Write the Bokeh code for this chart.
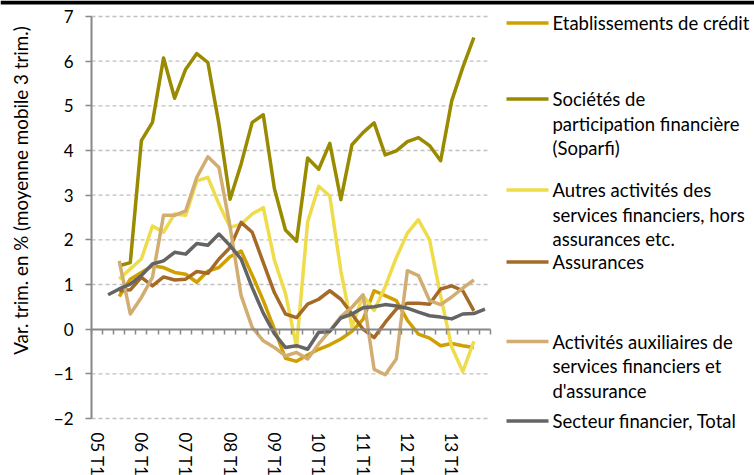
import math
from bokeh.plotting import figure
from bokeh.models import Range1d, FixedTicker, LinearAxis, Label
from bokeh.embed import file_html
from bokeh.resources import INLINE
from bokeh.core.properties import value

N = float("nan")

# quarters 2005 T1 .. 2013 T4
quarters = [f"{y} T{q}" for y in range(2005, 2014) for q in range(1, 5)]
tick_labels = ["05 T1", "06 T1", "07 T1", "08 T1", "09 T1", "10 T1", "11 T1", "12 T1", "13 T1"]
tick_quarters = ["2005 T1", "2006 T1", "2007 T1", "2008 T1", "2009 T1", "2010 T1", "2011 T1", "2012 T1", "2013 T1"]

etab = [N, N, 0.73, 1.12, 1.27, 1.42, 1.38, 1.27, 1.23, 1.05, 1.30, 1.38, 1.62, 1.75, 1.21, 0.64,
        0.00, -0.65, -0.72, -0.58, -0.45, -0.35, -0.22, -0.05, 0.22, 0.86, 0.75, 0.64, 0.20, -0.11,
        -0.20, -0.37, -0.32, -0.37, -0.41, N]
soparfi = [N, N, 1.42, 1.49, 4.22, 4.63, 6.07, 5.17, 5.82, 6.17, 5.97, 4.59, 2.91, 3.70, 4.63, 4.80,
           3.15, 2.22, 1.97, 3.83, 3.58, 4.16, 2.90, 4.13, 4.40, 4.62, 3.90, 3.99, 4.20, 4.29,
           4.11, 3.77, 5.11, 5.86, 6.53, N]
autres = [N, N, 1.12, 1.35, 1.57, 2.31, 2.17, 2.58, 2.55, 3.32, 3.40, 2.80, 2.28, 2.35, 2.58, 2.72,
          1.55, 0.80, -0.40, 2.40, 3.20, 2.98, 1.30, 0.05, 0.75, 0.42, 0.95, 1.60, 2.15, 2.45,
          2.00, 0.75, -0.40, -0.95, -0.27, N]
assur = [N, N, 0.86, 0.88, 1.16, 0.97, 1.17, 1.10, 1.12, 1.29, 1.25, 1.57, 1.83, 2.39, 2.17, 1.49,
         0.82, 0.34, 0.26, 0.56, 0.67, 0.86, 0.67, 0.34, 0.00, -0.19, 0.15, 0.45, 0.58, 0.58,
         0.56, 0.90, 0.97, 0.86, 0.41, N]
aux = [N, N, 1.53, 0.34, 0.71, 1.16, 2.55, 2.55, 2.65, 3.40, 3.86, 3.62, 2.30, 0.75, 0.04, -0.26,
       -0.41, -0.60, -0.52, -0.67, -0.33, -0.04, 0.28, 0.49, 0.77, -0.90, -1.02, -0.67, 1.31, 1.20,
       0.64, 0.55, 0.72, 0.92, 1.10, N]
total = [N, 0.77, 0.90, 1.01, 1.20, 1.46, 1.53, 1.72, 1.68, 1.92, 1.88, 2.13, 1.87, 1.57, 0.93, 0.36,
         -0.10, -0.41, -0.37, -0.45, -0.07, -0.05, 0.25, 0.34, 0.48, 0.50, 0.55, 0.52, 0.47, 0.38,
         0.30, 0.27, 0.23, 0.34, 0.35, 0.45]

series_names = [
    ["Etablissements de crédit"],
    ["Sociétés de", "participation financière", "(Soparfi)"],
    ["Autres activités des", "services financiers, hors", "assurances etc."],
    ["Assurances"],
    ["Activités auxiliaires de", "services financiers et", "d'assurance"],
    ["Secteur financier, Total"],
]
series_values = [etab, soparfi, autres, assur, aux, total]
series_colors = ["#CFA000", "#9A8A00", "#EEDC4B", "#A66A28", "#D2AD72", "#646464"]

y_ticks = [-2, -1, 0, 1, 2, 3, 4, 5, 6, 7]
y_title = "Var. trim. en % (moyenne mobile 3 trim.)"

FONT = "Lato"
AXIS_GRAY = "#878787"
GRID_GRAY = "#C0C0C0"

# ---- layout (canvas pixels; the frame fills the whole canvas) ----
W, H = 754, 475
PLOT_LEFT, PLOT_RIGHT = 91, 490      # canvas x of the value axis / end of category axis
PLOT_TOP, PLOT_BOTTOM = 16, 418      # canvas y of the top / bottom value ticks
TOP_BAND = 4                         # dark band along the top edge
ymin, ymax = min(y_ticks), max(y_ticks)
n = len(quarters)
cat_per_px = n / (PLOT_RIGHT - PLOT_LEFT)
px_per_unit = (PLOT_BOTTOM - PLOT_TOP) / (ymax - ymin)
x_lo, x_hi = -0.5, n - 0.5


def cx(px):
    return x_lo + (px - PLOT_LEFT) * cat_per_px


def cy(py):
    return ymax - (py - PLOT_TOP) / px_per_unit


p = figure(width=W, height=H,
           x_range=Range1d(cx(0), cx(W)), y_range=Range1d(cy(H), cy(0)),
           x_axis_type=None, y_axis_type=None,
           output_backend="svg", toolbar_location=None, min_border=0)
p.outline_line_color = None
p.background_fill_color = "white"
p.border_fill_color = "white"

# dark band along the top edge of the picture
p.quad(left=[cx(0)], right=[cx(W)], top=[cy(0)], bottom=[cy(TOP_BAND)],
       fill_color="#000000", line_color=None)

# dashed horizontal gridlines, limited to the plot area
grid_vals = [t for t in y_ticks if t != 0]
p.segment(x0=[x_lo] * len(grid_vals), y0=grid_vals, x1=[x_hi] * len(grid_vals), y1=grid_vals,
          line_color=GRID_GRAY, line_dash="4 3", line_width=1.3)

# value axis
yax = LinearAxis(fixed_location=x_lo, bounds=(ymin, ymax), ticker=FixedTicker(ticks=y_ticks))
yax.axis_line_color = AXIS_GRAY
yax.axis_line_width = 2
yax.major_tick_line_color = AXIS_GRAY
yax.major_tick_line_width = 1.5
yax.major_tick_out = 6
yax.major_tick_in = 0
yax.minor_tick_line_color = None
yax.major_label_standoff = 12
yax.major_label_text_font = FONT
yax.major_label_text_font_size = "17px"
yax.major_label_text_color = "#000000"
p.add_layout(yax, "left")

# category labels, hanging below the lowest gridline
pos = [quarters.index(q) for q in tick_quarters]
xax = LinearAxis(fixed_location=ymin, bounds=(x_lo, x_hi), ticker=FixedTicker(ticks=pos))
xax.major_label_overrides = {i: lab for i, lab in zip(pos, tick_labels)}
xax.major_label_orientation = "vertical"
xax.axis_line_color = None
xax.major_tick_line_color = None
xax.minor_tick_line_color = None
xax.major_tick_out = 0
xax.major_tick_in = 0
xax.major_label_standoff = 14
xax.major_label_text_font = FONT
xax.major_label_text_font_size = "17px"
xax.major_label_text_color = "#000000"
p.add_layout(xax, "below")

# zero line with quarter tick marks
bounds = [i - 0.5 for i in range(n + 1)]
zax = LinearAxis(fixed_location=0, bounds=(x_lo, x_hi), ticker=FixedTicker(ticks=[], minor_ticks=bounds))
zax.axis_line_color = AXIS_GRAY
zax.axis_line_width = 2
zax.major_tick_line_color = None
zax.minor_tick_line_color = AXIS_GRAY
zax.minor_tick_line_width = 1.5
zax.minor_tick_out = 5
zax.minor_tick_in = 0
zax.major_label_text_alpha = 0
p.add_layout(zax, "below")

x = list(range(n))
for vals, col in zip(series_values, series_colors):
    p.line(x, vals, line_color=col, line_width=3.5, line_join="round")

# value-axis title
p.add_layout(Label(x=cx(20), y=cy(190), text=y_title, angle=math.pi / 2,
                   text_align="center", text_baseline="middle", text_font=FONT,
                   text_font_size="18.8px", text_color="#000000"))

# legend (canvas pixel layout)
entry_y = [22.5, 98.5, 189.5, 261.5, 341, 420.5]
line_step = 24.5
for names, col, yy in zip(series_names, series_colors, entry_y):
    p.segment(x0=[cx(506)], y0=[cy(yy)], x1=[cx(548)], y1=[cy(yy)], line_color=col, line_width=3.5)
    ys = [cy(yy + k * line_step) for k in range(len(names))]
    p.text(x=[cx(552)] * len(names), y=ys, text=names, text_font=value(FONT),
           text_font_size="18.5px", text_baseline="middle", text_align="left",
           text_color="#000000")

open("out.html", "w").write(file_html(p, INLINE))
